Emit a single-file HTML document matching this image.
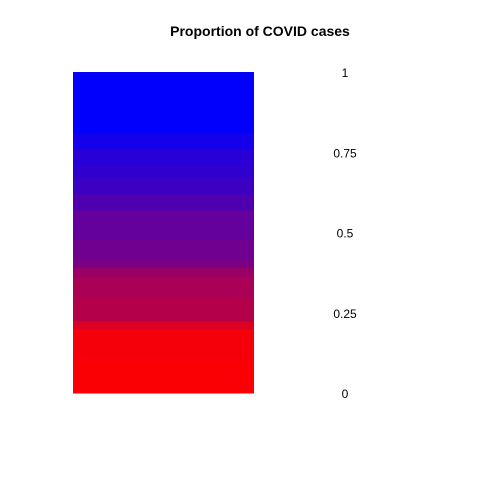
<!DOCTYPE html>
<html><head><meta charset="utf-8"><style>
body{margin:0;background:#fff;}
svg{display:block;font-family:"Liberation Sans",sans-serif;}
</style></head><body>
<svg id="c" width="480" height="480">
<text x="260" y="36" text-anchor="middle" font-size="14" font-weight="bold">Proportion of COVID cases</text>
<g id="bar"></g>
<g id="ticks"></g>
</svg>
<script>
// band boundaries (proportion from, to) and red intensity (0-255); blue = 255 - red
const bandFrom = [0.0, 0.1, 0.2, 0.225, 0.3, 0.36, 0.39, 0.415, 0.48, 0.57, 0.62, 0.67, 0.71, 0.76, 0.81];
const bandTo   = [0.1, 0.2, 0.225, 0.3, 0.36, 0.39, 0.415, 0.48, 0.57, 0.62, 0.67, 0.71, 0.76, 0.81, 1.0];
const bandRed  = [250, 245, 220, 180, 170, 155, 125, 112, 100, 78, 60, 48, 40, 20, 2];
const tickValues = [0, 0.25, 0.5, 0.75, 1];
const tickLabels = ["0", "0.25", "0.5", "0.75", "1"];

const y0 = 393, y1 = 72;
const yScale = v => y0 - v * (y0 - y1);
const ns = "http://www.w3.org/2000/svg";
const bar = document.getElementById('bar');
for (let i = 0; i < bandFrom.length; i++) {
  const r = document.createElementNS(ns, 'rect');
  const top = yScale(bandTo[i]), bot = yScale(bandFrom[i]);
  r.setAttribute('x', 73); r.setAttribute('width', 181);
  r.setAttribute('y', top); r.setAttribute('height', bot - top + 0.5);
  r.setAttribute('fill', `rgb(${bandRed[i]},0,${255 - bandRed[i]})`);
  
  
  bar.appendChild(r);
}
const ticks = document.getElementById('ticks');
for (let i = 0; i < tickValues.length; i++) {
  const t = document.createElementNS(ns, 'text');
  t.setAttribute('x', 345); t.setAttribute('y', yScale(tickValues[i]) + 5);
  t.setAttribute('text-anchor', 'middle'); t.setAttribute('font-size', '12');
  t.textContent = tickLabels[i];
  
  
  ticks.appendChild(t);
}
</script>
</body></html>
